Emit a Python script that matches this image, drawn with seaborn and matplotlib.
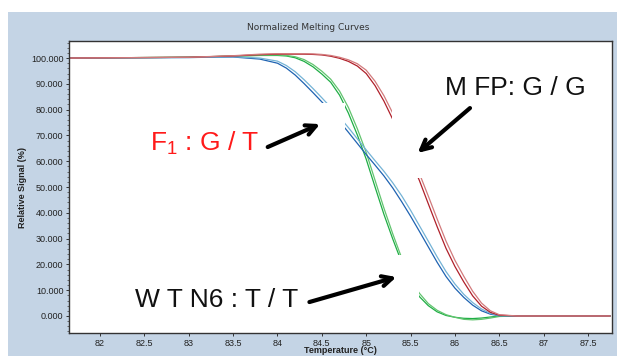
import matplotlib
matplotlib.use("Agg")
import matplotlib.pyplot as plt
import seaborn as sns
import pandas as pd
from matplotlib.patches import Rectangle
from matplotlib.ticker import MultipleLocator, FormatStrFormatter

# Temperature grid (°C) shared by all melting curves
temps = [81.65, 83.0, 83.5, 83.8, 84.0, 84.1, 84.2, 84.3, 84.4, 84.5, 84.6, 84.7,
         84.8, 84.9, 85.0, 85.1, 85.2, 85.3, 85.4, 85.5, 85.6, 85.7, 85.8, 85.9,
         86.0, 86.1, 86.2, 86.3, 86.4, 86.5, 86.7, 87.0, 87.5, 87.75]

# WT N6: T/T (blue replicates)
blue_1 = [100, 100.2, 100.4, 99.6, 98.0, 96.1, 93.4, 90.1, 86.6, 83.0, 79.3, 75.4,
          71.2, 66.9, 62.6, 58.5, 54.3, 49.6, 44.3, 38.7, 32.8, 26.8, 20.8, 15.3,
          10.8, 7.2, 4.2, 2.0, 0.7, 0.1, 0.0, 0.0, 0.0, 0.0]
blue_2 = [100, 100.2, 100.5, 100.0, 98.8, 97.1, 94.7, 91.6, 88.2, 84.6, 80.9, 77.1,
          73.0, 68.7, 64.4, 60.2, 56.1, 51.6, 46.6, 41.0, 35.0, 29.0, 22.9, 17.2,
          12.4, 8.4, 5.2, 2.7, 1.0, 0.2, 0.0, 0.0, 0.0, 0.0]

# MFP: G/G (red replicates)
red_1 = [100, 100.3, 100.8, 101.3, 101.5, 101.5, 101.5, 101.5, 101.4, 101.2, 100.7, 99.9,
         98.7, 96.9, 94.0, 89.3, 83.3, 76.2, 68.4, 60.5, 52.5, 43.5, 34.6, 26.2,
         19.2, 13.2, 7.8, 3.8, 1.4, 0.3, 0.0, 0.0, 0.0, 0.0]
red_2 = [100, 100.3, 100.9, 101.5, 101.7, 101.7, 101.7, 101.7, 101.6, 101.4, 101.0, 100.3,
         99.3, 97.8, 95.3, 91.0, 85.4, 78.6, 71.0, 63.2, 55.2, 46.5, 37.6, 29.0,
         21.6, 15.4, 9.6, 5.0, 2.0, 0.5, 0.0, 0.0, 0.0, 0.0]

# F1: G/T (green replicates)
green_1 = [100, 100.3, 100.7, 101.0, 101.0, 100.8, 100.1, 98.7, 96.6, 93.8, 90.6, 85.6,
           78.6, 70.2, 60.8, 50.0, 39.4, 29.8, 20.8, 12.8, 7.5, 4.0, 1.6, 0.2,
           -0.5, -0.9, -1.0, -0.8, -0.4, 0.0, 0.0, 0.0, 0.0, 0.0]
green_2 = [100, 100.3, 100.8, 101.1, 101.2, 101.0, 100.5, 99.4, 97.5, 94.9, 91.8, 87.2,
           80.8, 72.6, 63.4, 52.6, 41.8, 31.8, 22.5, 14.2, 8.8, 4.8, 2.2, 0.5,
           -0.5, -1.3, -1.5, -1.3, -0.8, -0.2, 0.0, 0.0, 0.0, 0.0]

x_ticks = [82, 82.5, 83, 83.5, 84, 84.5, 85, 85.5, 86, 86.5, 87, 87.5]
x_tick_labels = ["82", "82.5", "83", "83.5", "84", "84.5", "85", "85.5", "86", "86.5", "87", "87.5"]
y_ticks = [0, 10, 20, 30, 40, 50, 60, 70, 80, 90, 100]

curves = {
    "green_1": green_1, "green_2": green_2,
    "blue_1": blue_1, "blue_2": blue_2,
    "red_1": red_1, "red_2": red_2,
}
palette = {
    "green_1": "#1fae45", "green_2": "#62c46f",
    "blue_1": "#1f63b2", "blue_2": "#74b3d6",
    "red_1": "#b0202a", "red_2": "#d27a7c",
}

df = pd.concat(
    [pd.DataFrame({"Temperature": temps, "Signal": v, "curve": k}) for k, v in curves.items()],
    ignore_index=True,
)

sns.set_theme(style="ticks")
plt.rcParams["font.family"] = ["Liberation Sans", "DejaVu Sans"]
plt.rcParams["mathtext.fontset"] = "custom"
plt.rcParams["mathtext.rm"] = "Liberation Sans"

fig = plt.figure(figsize=(6.17, 3.56), dpi=100)
fig.patch.set_facecolor("white")
fig.patches.append(Rectangle((8 / 617, 0), 1, 344 / 356, transform=fig.transFigure,
                             facecolor="#c4d4e5", edgecolor="none", zorder=-1))

ax = fig.add_axes([0.1118, 0.0646, 0.880, 0.8202])
ax.set_facecolor("white")

sns.lineplot(data=df, x="Temperature", y="Signal", hue="curve", palette=palette,
             hue_order=list(curves.keys()), estimator=None, legend=False,
             lw=0.9, ax=ax)
for line in ax.get_lines():
    line.set_solid_joinstyle("round")

ax.set_xlim(81.65, 87.77)
ax.set_ylim(-6.6, 106.6)
ax.set_xticks(x_ticks)
ax.set_xticklabels(x_tick_labels)
ax.set_yticks(y_ticks)
ax.yaxis.set_major_formatter(FormatStrFormatter("%.3f"))
ax.yaxis.set_minor_locator(MultipleLocator(2))
ax.tick_params(axis="both", which="major", labelsize=6.5, length=2.5, width=0.7,
               pad=1.5, colors="#333333", labelcolor="#222222")
ax.tick_params(axis="y", which="minor", length=1.5, width=0.6, colors="#555555")
for s in ax.spines.values():
    s.set_color("#333333")
    s.set_linewidth(1.0)

ax.set_xlabel("Temperature (°C)", fontsize=6.5, fontweight="bold", color="#222222")
ax.set_ylabel("Relative Signal (%)", fontsize=6.5, fontweight="bold", color="#222222")
ax.xaxis.set_label_coords(0.5, -0.046)
ax.yaxis.set_label_coords(-0.077, 0.5)

fig.text(308 / 617, 1 - 28 / 356, "Normalized Melting Curves", ha="center", va="center",
         fontsize=6.5, color="#333333", family="DejaVu Sans")

# white cut-outs behind the pasted annotations
for (x0, y0, x1, y1) in [(84.20, 70.2, 84.76, 82.6), (85.29, 53.5, 85.83, 80.0),
                         (84.25, 6.2, 85.60, 23.6)]:
    ax.add_patch(Rectangle((x0, y0), x1 - x0, y1 - y0, facecolor="white",
                           edgecolor="none", zorder=3))

arrow_kw = dict(arrowstyle="->", color="black", lw=3, mutation_scale=18, shrinkA=0, shrinkB=0)
ax.annotate("", xy=(84.48, 74.4), xytext=(83.89, 65.5), arrowprops=arrow_kw, zorder=4)
ax.annotate("", xy=(85.58, 63.2), xytext=(86.17, 80.6), arrowprops=arrow_kw, zorder=4)
ax.annotate("", xy=(85.34, 15.1), xytext=(84.36, 5.4), arrowprops=arrow_kw, zorder=4)

ax.text(82.56, 67.0, r"F$_{1}$ : G / T", color="#ff1a1a", fontsize=19, ha="left",
        va="center", zorder=5)
ax.text(85.89, 88.4, "M FP: G / G", color="#111111", fontsize=19, ha="left",
        va="center", zorder=5)
ax.text(82.39, 6.2, "W T N6 : T / T", color="#111111", fontsize=19, ha="left",
        va="center", zorder=5)

fig.savefig("out.png", dpi=100)
